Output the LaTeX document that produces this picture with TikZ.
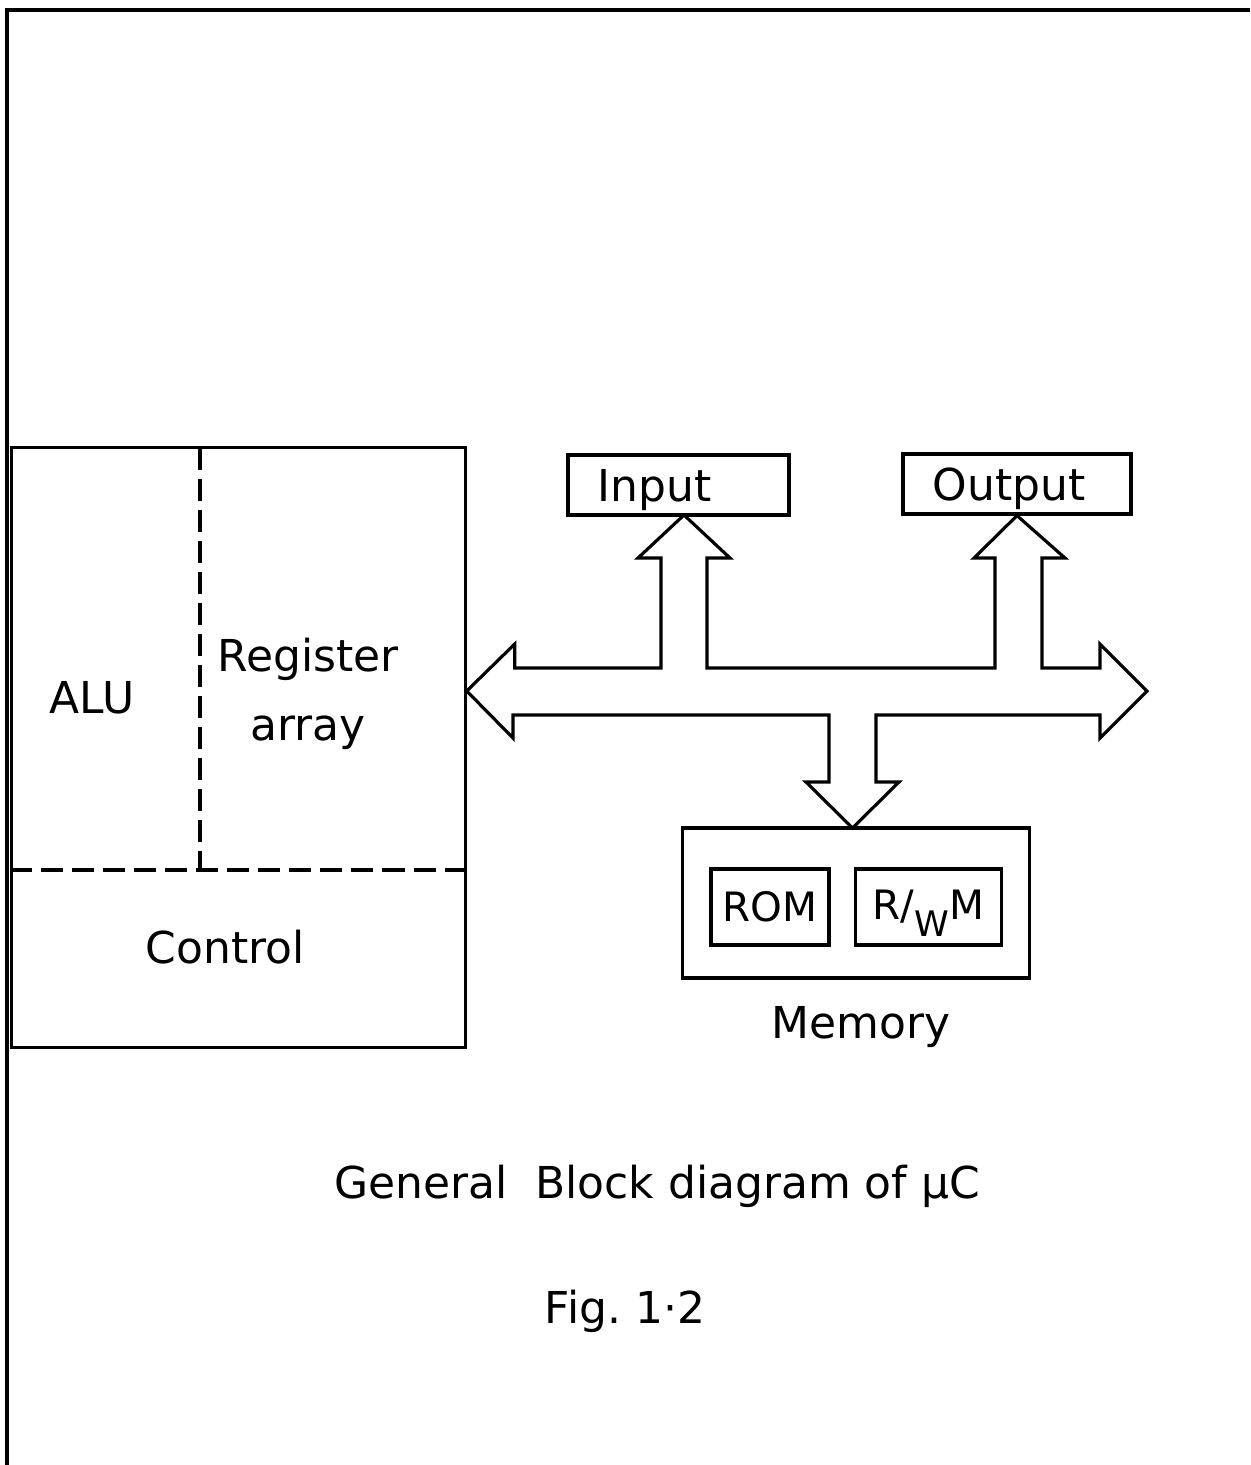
\documentclass[tikz,border=0pt]{standalone}
\usepackage{fontspec}
\setmainfont{DejaVu Sans}
\usetikzlibrary{positioning}

\begin{document}
\begin{tikzpicture}[
    x=0.01cm, y=-0.01cm,
    font=\fontsize{12.5}{15}\selectfont,
    line width=0.9pt,
    blk/.style={draw, inner sep=0pt},
    port/.style={draw, inner xsep=0.3cm, inner ysep=0pt, minimum height=0.6cm, align=left, text depth=0pt},
    memcell/.style={draw, inner sep=0pt, minimum height=0.76cm, font=\fontsize{11.5}{14}\selectfont},
    divider/.style={dash pattern=on 0.22cm off 0.09cm},
    lbl/.style={inner sep=0pt, anchor=base}
]
\useasboundingbox (0,0) rectangle (1250,1465);
% sheet edges
\draw[line width=1.4pt] (7,1465) -- (7,10) -- (1250,10);
% processor block
\node[blk, minimum width=4.53cm, minimum height=5.99cm] (cpu) at (238.5,747.5) {};
\coordinate (ctl) at (12,870);
\coordinate (alu) at (200,448);
\draw[divider] (cpu.west |- ctl) -- (cpu.east |- ctl);
\draw[divider] (alu) -- (alu |- ctl);
\node[lbl] (alutxt) at (92,713) {ALU};
\node[inner sep=0pt, align=center, font=\fontsize{12.5}{19.6}\selectfont] (reg) at (308,694) {Register\\array};
\node[lbl] (ctltxt) at (225,963) {Control};
% ports
\node[port, text width=1.61cm] (input)  at (678.5,485) {Input};
\node[port, text width=1.68cm] (output) at (1017,484)  {Output};
% memory
\node[blk, minimum width=3.46cm, minimum height=1.5cm] (mem) at (856,903) {};
\node[memcell, minimum width=1.18cm] (rom) at (770,907) {ROM};
\node[memcell, minimum width=1.46cm, right=0.23cm of rom] (rwm)
    {R/\raisebox{-4.8pt}[0pt][0pt]{\fontsize{10}{10}\selectfont W}M};
\node[inner sep=0pt, below=0.25cm of mem, xshift=0.05cm] (memtxt) {Memory};
% bus tips
\coordinate (busL) at (cpu.east |- 0,691);
\coordinate (busR) at (1147,691);
\coordinate (inTip) at (684,515);
\coordinate (outTip) at (output.south);
\coordinate (memTip) at (852.5,828);
% bus
\draw[line join=miter] (busL) -- ++(48,-47) -- ++(0,24) -- (661,668) -- (661,558) -- ++(-23,0)
    -- (inTip) -- (730,558) -- ++(-23,0) -- (707,668) -- (995,668) -- (995,558) -- ++(-21,0)
    -- (outTip) -- (1065,558) -- ++(-23,0) -- (1042,668) -- (1100,668) -- ++(0,-24)
    -- (busR) -- (1100,738) -- ++(0,-23) -- (876,715) -- (876,782) -- ++(23,0)
    -- (memTip) -- (806,782) -- ++(23,0) -- (829,715) -- (513,715) -- ++(0,23) -- cycle;
% caption
\node[lbl] (title) at (657,1198) {General\ \ Block diagram of μC};
\node[lbl] (fig) at (625,1323) {Fig.\ 1·2};
\end{tikzpicture}
\end{document}
